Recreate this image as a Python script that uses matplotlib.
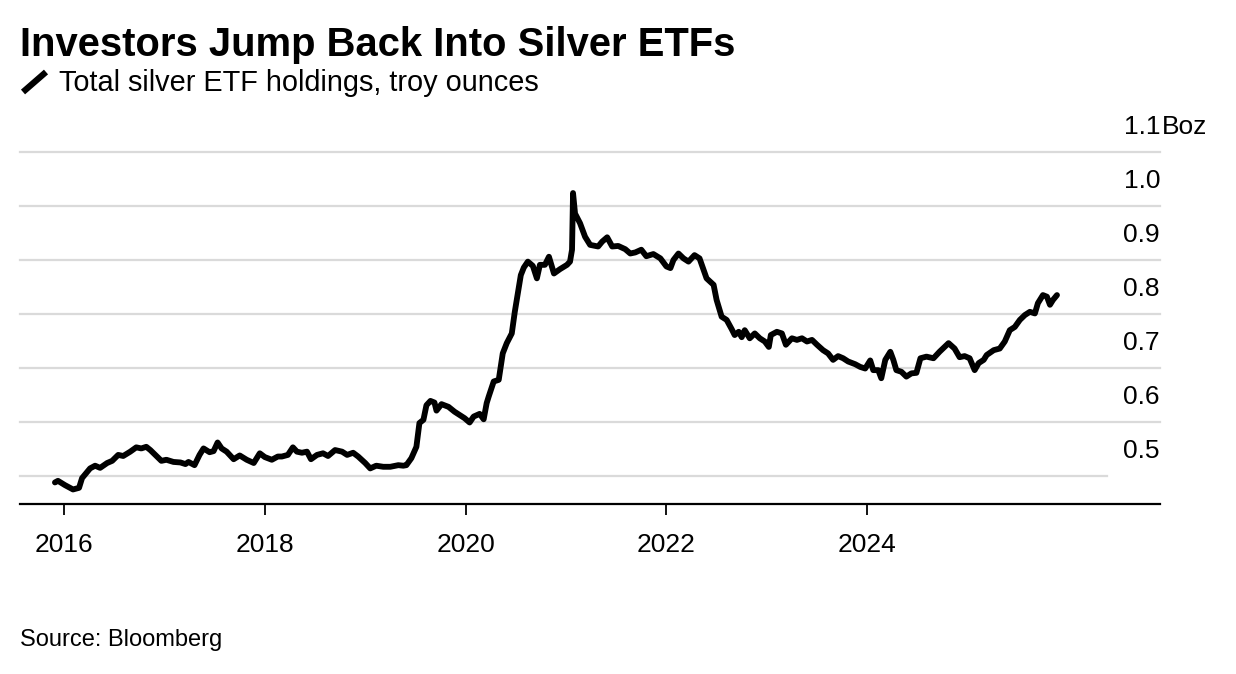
import matplotlib
matplotlib.use("Agg")
import matplotlib.pyplot as plt
from matplotlib.lines import Line2D

plt.rcParams["font.family"] = ["Liberation Sans", "DejaVu Sans"]

# decimal year of each reading
years = [
    2015.91, 2015.94, 2016.01, 2016.09, 2016.15, 2016.18, 2016.26, 2016.31, 2016.36, 2016.43,
    2016.48, 2016.54, 2016.59, 2016.66, 2016.72, 2016.77, 2016.82, 2016.86, 2016.91, 2016.97,
    2017.02, 2017.09, 2017.16, 2017.21, 2017.24, 2017.30, 2017.35, 2017.39, 2017.45, 2017.49,
    2017.53, 2017.57, 2017.62, 2017.69, 2017.75, 2017.82, 2017.89, 2017.95, 2018.00, 2018.07,
    2018.13, 2018.17, 2018.23, 2018.28, 2018.32, 2018.37, 2018.42, 2018.46, 2018.52, 2018.58,
    2018.63, 2018.70, 2018.77, 2018.82, 2018.88, 2018.93, 2019.00, 2019.05, 2019.11, 2019.18,
    2019.25, 2019.33, 2019.38, 2019.41, 2019.46, 2019.51, 2019.54, 2019.58, 2019.61, 2019.65,
    2019.69, 2019.71, 2019.76, 2019.83, 2019.89, 2019.94, 2019.99, 2020.04, 2020.08, 2020.14,
    2020.18, 2020.21, 2020.23, 2020.28, 2020.33, 2020.37, 2020.41, 2020.46, 2020.49, 2020.52,
    2020.55, 2020.58, 2020.62, 2020.67, 2020.71, 2020.74, 2020.79, 2020.83, 2020.88, 2020.94,
    2021.01, 2021.04, 2021.06, 2021.07, 2021.09, 2021.14, 2021.19, 2021.24, 2021.32, 2021.36,
    2021.41, 2021.46, 2021.52, 2021.59, 2021.64, 2021.69, 2021.75, 2021.80, 2021.87, 2021.94,
    2022.00, 2022.04, 2022.07, 2022.12, 2022.17, 2022.22, 2022.28, 2022.33, 2022.40, 2022.47,
    2022.50, 2022.55, 2022.60, 2022.65, 2022.68, 2022.72, 2022.75, 2022.78, 2022.83, 2022.88,
    2022.93, 2022.98, 2023.02, 2023.04, 2023.10, 2023.15, 2023.19, 2023.25, 2023.30, 2023.35,
    2023.40, 2023.45, 2023.50, 2023.56, 2023.61, 2023.66, 2023.71, 2023.76, 2023.81, 2023.88,
    2023.93, 2023.98, 2024.03, 2024.06, 2024.11, 2024.14, 2024.18, 2024.23, 2024.26, 2024.29,
    2024.34, 2024.39, 2024.44, 2024.49, 2024.53, 2024.59, 2024.66, 2024.72, 2024.81, 2024.87,
    2024.92, 2024.97, 2025.02, 2025.07, 2025.11, 2025.16, 2025.19, 2025.26, 2025.32, 2025.37,
    2025.42, 2025.47, 2025.52, 2025.57, 2025.62, 2025.67, 2025.70, 2025.75, 2025.79, 2025.82,
    2025.85, 2025.89,
]

# total silver ETF holdings, billion troy ounces
holdings = [
    0.488, 0.491, 0.483, 0.475, 0.478, 0.496, 0.514, 0.519, 0.515, 0.524,
    0.528, 0.539, 0.537, 0.545, 0.553, 0.551, 0.554, 0.548, 0.539, 0.528,
    0.530, 0.526, 0.525, 0.522, 0.526, 0.520, 0.539, 0.551, 0.544, 0.546,
    0.562, 0.551, 0.545, 0.531, 0.538, 0.530, 0.524, 0.542, 0.535, 0.530,
    0.536, 0.536, 0.539, 0.553, 0.545, 0.543, 0.545, 0.531, 0.539, 0.542,
    0.537, 0.548, 0.545, 0.539, 0.543, 0.536, 0.524, 0.514, 0.519, 0.517,
    0.517, 0.520, 0.519, 0.520, 0.533, 0.554, 0.598, 0.604, 0.631, 0.639,
    0.636, 0.621, 0.633, 0.628, 0.619, 0.613, 0.607, 0.599, 0.610, 0.615,
    0.605, 0.635, 0.647, 0.675, 0.678, 0.727, 0.746, 0.764, 0.804, 0.838,
    0.872, 0.886, 0.897, 0.889, 0.866, 0.891, 0.891, 0.906, 0.875, 0.883,
    0.891, 0.897, 0.919, 1.024, 0.986, 0.968, 0.943, 0.928, 0.925, 0.934,
    0.942, 0.925, 0.926, 0.920, 0.912, 0.914, 0.919, 0.907, 0.911, 0.903,
    0.888, 0.885, 0.900, 0.912, 0.903, 0.897, 0.909, 0.903, 0.866, 0.854,
    0.826, 0.795, 0.789, 0.772, 0.761, 0.767, 0.757, 0.770, 0.755, 0.764,
    0.755, 0.749, 0.739, 0.761, 0.767, 0.764, 0.743, 0.755, 0.752, 0.755,
    0.749, 0.752, 0.743, 0.733, 0.727, 0.715, 0.722, 0.718, 0.712, 0.707,
    0.702, 0.699, 0.714, 0.696, 0.696, 0.681, 0.715, 0.730, 0.715, 0.696,
    0.693, 0.684, 0.690, 0.691, 0.718, 0.721, 0.718, 0.730, 0.746, 0.736,
    0.720, 0.722, 0.718, 0.696, 0.709, 0.715, 0.724, 0.733, 0.736, 0.749,
    0.770, 0.776, 0.789, 0.798, 0.804, 0.801, 0.820, 0.835, 0.832, 0.817,
    0.826, 0.835,
]

year_ticks = [2016, 2018, 2020, 2022, 2024]
grid_values = [0.5, 0.6, 0.7, 0.8, 0.9, 1.0, 1.1]
grid_labels = ["0.5", "0.6", "0.7", "0.8", "0.9", "1.0", "1.1"]

W, H = 1236, 674


def fx(px):
    return px / W


def fy(py):
    return 1 - py / H


fig = plt.figure(figsize=(W / 100, H / 100), dpi=100)
ax = fig.add_axes([fx(20), fy(503.5), fx(1160) - fx(20), fy(152) - fy(503.5)])

grid_color = "#dadada"
for v in grid_values:
    xmax = (1107 - 20) / (1160 - 20) if v == 0.5 else 1.0
    ax.axhline(v, xmin=0, xmax=xmax, color=grid_color, lw=1.6, zorder=0, clip_on=False)

ax.plot(years, holdings, color="black", lw=4.2, solid_joinstyle="round",
        solid_capstyle="round", zorder=3)

ax.set_xlim(2015.562, 2026.916)
ax.set_ylim(0.449, 1.1)

for side in ["top", "right", "left"]:
    ax.spines[side].set_visible(False)
ax.spines["bottom"].set_linewidth(1.6)
ax.spines["bottom"].set_color("black")

ax.set_xticks(year_ticks)
ax.set_xticklabels([str(y) for y in year_ticks], fontsize=19)
ax.tick_params(axis="x", length=8, width=1.3, pad=13, color="black")
ax.set_yticks([])

# value labels sit between the grid lines, right-aligned at the axis edge
for v, lab in zip(grid_values, grid_labels):
    ax.text(1.0, v + 0.047, lab, transform=ax.get_yaxis_transform(),
            ha="right", va="center", fontsize=19, clip_on=False)
ax.text(1.002, 1.147, "Boz", transform=ax.get_yaxis_transform(),
        ha="left", va="center", fontsize=19, clip_on=False)

fig.text(fx(20), fy(56), "Investors Jump Back Into Silver ETFs", fontsize=28.8,
         fontweight="bold", ha="left", va="baseline")
fig.add_artist(Line2D([fx(23), fx(46)], [fy(92), fy(72)], color="black", lw=4.5,
                      solid_capstyle="butt", transform=fig.transFigure))
fig.text(fx(59), fy(91), "Total silver ETF holdings, troy ounces", fontsize=20.8,
         ha="left", va="baseline")
fig.text(fx(20), fy(646), "Source: Bloomberg", fontsize=17, ha="left", va="baseline")

fig.savefig("out.png", dpi=100)
